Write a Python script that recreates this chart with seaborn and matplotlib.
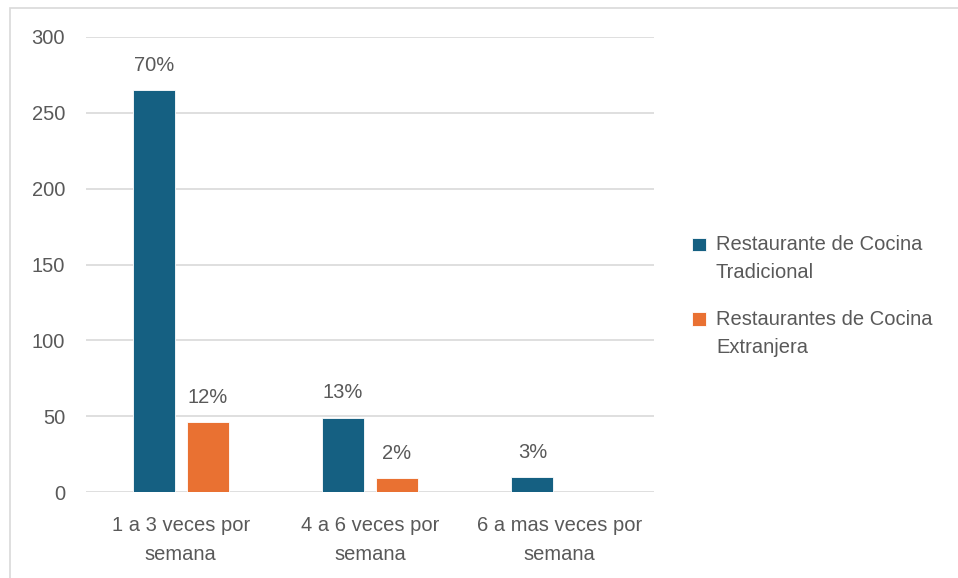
import pandas as pd
import matplotlib
matplotlib.use("Agg")
import matplotlib.pyplot as plt
from matplotlib.patches import Rectangle
import seaborn as sns

# datos
categorias = ["1 a 3 veces por\nsemana", "4 a 6 veces por\nsemana", "6 a mas veces por\nsemana"]
series = ["Restaurante de Cocina\nTradicional", "Restaurantes de Cocina\nExtranjera"]
tradicional = [265, 49, 10]
extranjera = [46, 9, 0]
etiq_tradicional = ["70%", "13%", "3%"]
etiq_extranjera = ["12%", "2%", ""]
colores = ["#156082", "#E97132"]

df = pd.DataFrame({
    "categoria": categorias * 2,
    "serie": [series[0]] * 3 + [series[1]] * 3,
    "valor": tradicional + extranjera,
})

sns.set_style("white")
plt.rcParams["font.family"] = ["Liberation Sans", "DejaVu Sans"]
gris = "#595959"
fs = 14.5

fig = plt.figure(figsize=(9.58, 5.78), dpi=100)
ax = fig.add_axes([86 / 958, 1 - 492 / 578, (654 - 86) / 958, (492 - 37) / 578])

sns.barplot(data=df, x="categoria", y="valor", hue="serie", palette=colores,
            saturation=1, width=0.57, gap=0.22, edgecolor="white",
            linewidth=0.6, ax=ax)

for cont, labs in zip(ax.containers, [etiq_tradicional, etiq_extranjera]):
    ax.bar_label(cont, labels=labs, padding=11, fontsize=fs, color=gris)

ax.set_ylim(0, 300)
ax.set_yticks(range(0, 301, 50))
ax.yaxis.grid(True, color="#D9D9D9", linewidth=1.2)
ax.set_axisbelow(True)
sns.despine(ax=ax, left=True, bottom=True)
ax.set_xlabel("")
ax.set_ylabel("")
ax.tick_params(axis="y", length=0, pad=15, labelsize=fs, labelcolor=gris)
ax.tick_params(axis="x", length=0, pad=17, labelsize=fs, labelcolor=gris)
for t in ax.get_xticklabels():
    t.set_linespacing(1.68)

sns.move_legend(ax, loc="center left", bbox_to_anchor=(0.712, 0.488),
                bbox_transform=fig.transFigure, frameon=False, title=None,
                fontsize=fs, handlelength=0.68, handleheight=0.68,
                handletextpad=0.5, labelspacing=1.35, borderpad=0)
leg = ax.get_legend()
for t in leg.get_texts():
    t.set_color(gris)
    t.set_linespacing(1.62)
for h in leg.legend_handles:
    h.set_y(h.get_y() + 10.5)

# marco del gráfico
fig.patches.append(Rectangle((10 / 958, -0.1), 1.1, 1 - 8 / 578 + 0.1,
                             transform=fig.transFigure, fill=False,
                             edgecolor="#D9D9D9", linewidth=1.2))

fig.savefig("out.png", dpi=100)
